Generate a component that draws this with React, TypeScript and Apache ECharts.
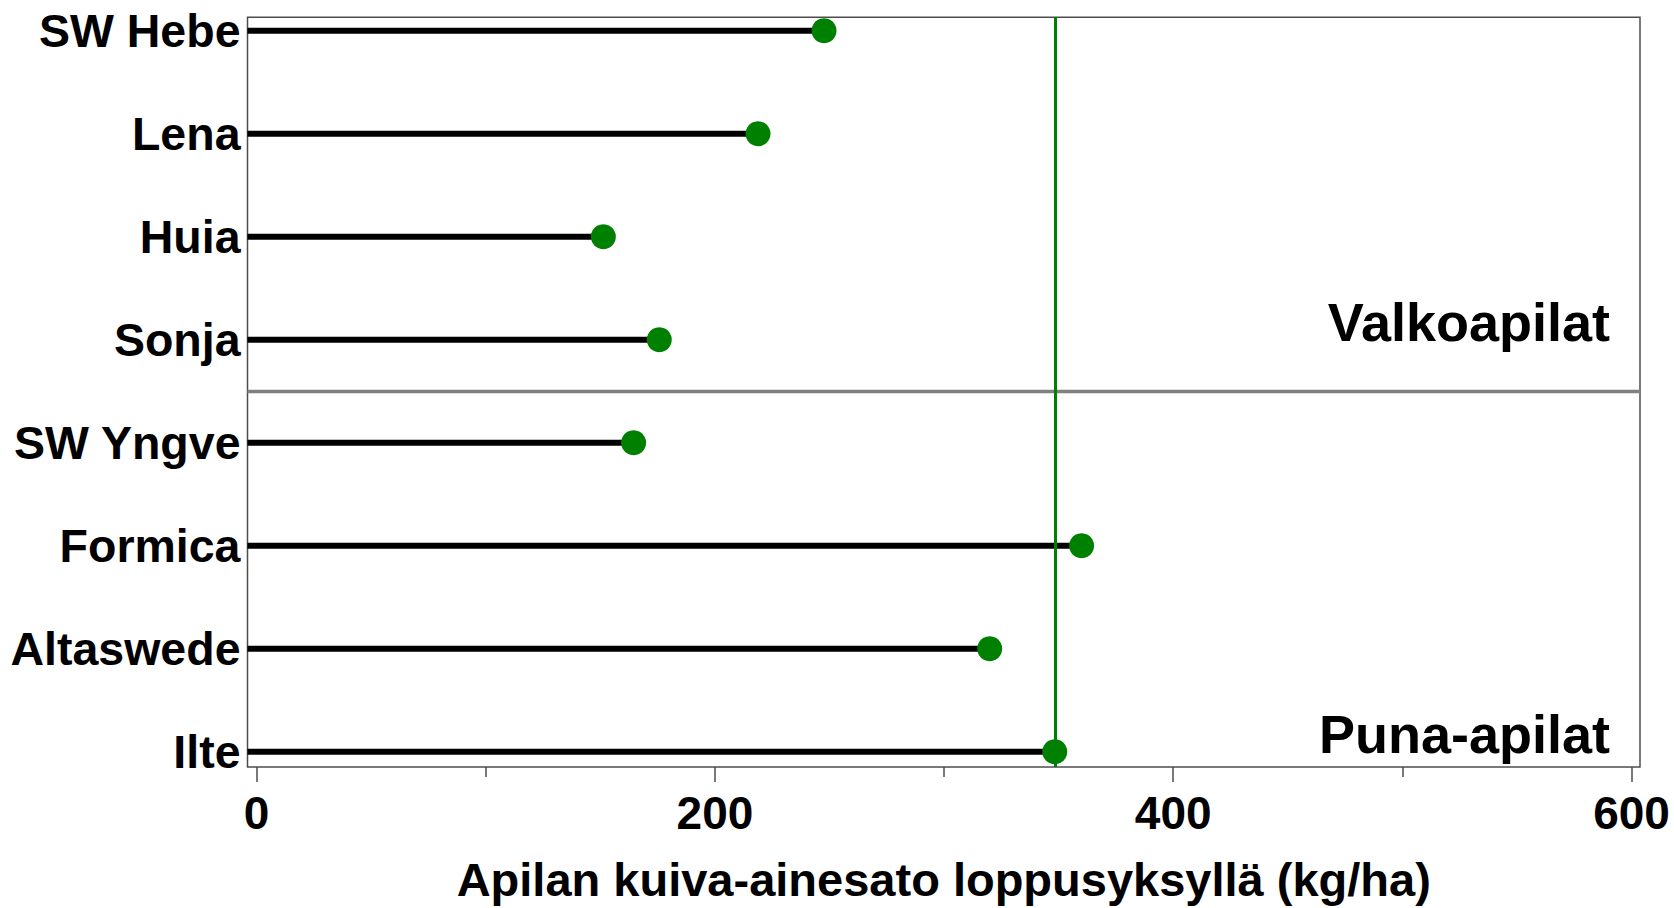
import React, { useEffect, useRef } from "react";
import * as echarts from "echarts";

const categories = ["SW Hebe", "Lena", "Huia", "Sonja", "SW Yngve", "Formica", "Altaswede", "Ilte"];
const values = [247.6, 218.8, 151.3, 175.7, 164.5, 360.0, 319.9, 348.3];
const referenceValue = 348.7;
const groupBoundary = 3.5;
const groupLabels = ["Valkoapilat", "Puna-apilat"];
const majorTicks = [0, 200, 400, 600];
const minorTicks = [100, 300, 500];
const categoryIndex = [0, 1, 2, 3, 4, 5, 6, 7];
const xTitle = "Apilan kuiva-ainesato loppusyksyllä (kg/ha)";

const X_MIN = -4;
const X_MAX = 603.7;
const Y_MIN = -0.13;
const Y_MAX = 7.149;
const FONT = "'Liberation Sans', Arial, Helvetica, sans-serif";

const GRID = { left: 247.5, top: 17.3, right: 34, bottom: 141, outerBoundsMode: "none", containLabel: false };

export default function App() {
  const ref = useRef<HTMLDivElement>(null);
  useEffect(() => {
    if (!ref.current) return;
    const chart = echarts.init(ref.current, null, { renderer: "svg" });
    const points = values.map((v, i) => [v, i]);
    chart.setOption({
      animation: false,
      backgroundColor: "#fff",
      textStyle: { fontFamily: FONT },
      grid: [
        {
          ...GRID,
          show: true,
          borderColor: "#4d4d4d",
          borderWidth: 1.5,
          backgroundColor: "transparent",
        },
        { ...GRID, show: false },
      ],
      xAxis: [
        {
          type: "value",
          gridIndex: 0,
          min: X_MIN,
          max: X_MAX,
          position: "bottom",
          axisLine: { show: false, onZero: false },
          splitLine: { show: false },
          axisTick: { show: true, customValues: majorTicks, length: 15, lineStyle: { color: "#4d4d4d", width: 1.5 } },
          axisLabel: {
            customValues: majorTicks,
            fontSize: 46,
            fontWeight: "bold",
            color: "#000",
            fontFamily: FONT,
            margin: 23,
          },
          name: xTitle,
          nameLocation: "middle",
          nameGap: 89,
          nameTextStyle: { fontSize: 47, fontWeight: "bold", color: "#000", fontFamily: FONT },
        },
        {
          type: "value",
          gridIndex: 1,
          min: X_MIN,
          max: X_MAX,
          position: "bottom",
          axisLine: { show: false, onZero: false },
          splitLine: { show: false },
          axisTick: { show: true, customValues: minorTicks, length: 10, lineStyle: { color: "#4d4d4d", width: 1.5 } },
          axisLabel: { show: false },
        },
      ],
      yAxis: [
        {
          type: "value",
          gridIndex: 0,
          min: Y_MIN,
          max: Y_MAX,
          inverse: true,
          axisLine: { show: false, onZero: false },
          axisTick: { show: false },
          splitLine: { show: false },
          axisLabel: {
            customValues: categoryIndex,
            formatter: (v: number) => categories[Math.round(v)] ?? "",
            fontSize: 46.5,
            fontWeight: "bold",
            color: "#000",
            fontFamily: FONT,
            margin: 7,
          },
        },
        {
          type: "value",
          gridIndex: 1,
          min: Y_MIN,
          max: Y_MAX,
          inverse: true,
          show: false,
          axisLine: { onZero: false },
        },
      ],
      series: [
        {
          type: "custom",
          z: 2,
          xAxisIndex: 0,
          yAxisIndex: 0,
          encode: { x: 0, y: 1 },
          data: points,
          renderItem: (params: any, api: any) => {
            const y = api.value(1);
            const p0 = api.coord([X_MIN, y]);
            const p1 = api.coord([api.value(0), y]);
            return {
              type: "line",
              shape: { x1: p0[0], y1: p0[1], x2: p1[0], y2: p1[1] },
              style: { stroke: "#000", lineWidth: 6 },
            };
          },
        },
        {
          type: "line",
          z: 3,
          xAxisIndex: 0,
          yAxisIndex: 0,
          data: [],
          markLine: {
            silent: true,
            symbol: "none",
            label: { show: false },
            data: [
              { yAxis: groupBoundary, lineStyle: { color: "#808080", width: 3.3, type: "solid" } },
              { xAxis: referenceValue, lineStyle: { color: "#008000", width: 3, type: "solid" } },
            ],
          },
        },
        {
          type: "scatter",
          z: 4,
          xAxisIndex: 0,
          yAxisIndex: 0,
          data: points,
          symbol: "circle",
          symbolSize: 25,
          itemStyle: { color: "#008000", opacity: 1 },
        },
      ],
      graphic: [
        {
          type: "text",
          x: 1610,
          y: 322,
          style: {
            text: groupLabels[0],
            fontSize: 54,
            fontWeight: "bold",
            fontFamily: FONT,
            fill: "#000",
            textAlign: "right",
            textVerticalAlign: "middle",
          },
        },
        {
          type: "text",
          x: 1610,
          y: 734,
          style: {
            text: groupLabels[1],
            fontSize: 54,
            fontWeight: "bold",
            fontFamily: FONT,
            fill: "#000",
            textAlign: "right",
            textVerticalAlign: "middle",
          },
        },
      ],
    });
    return () => chart.dispose();
  }, []);
  return (
    <div
      ref={ref}
      style={{ position: "fixed", left: 0, top: 0, width: 1674, height: 908, background: "#fff" }}
    />
  );
}
